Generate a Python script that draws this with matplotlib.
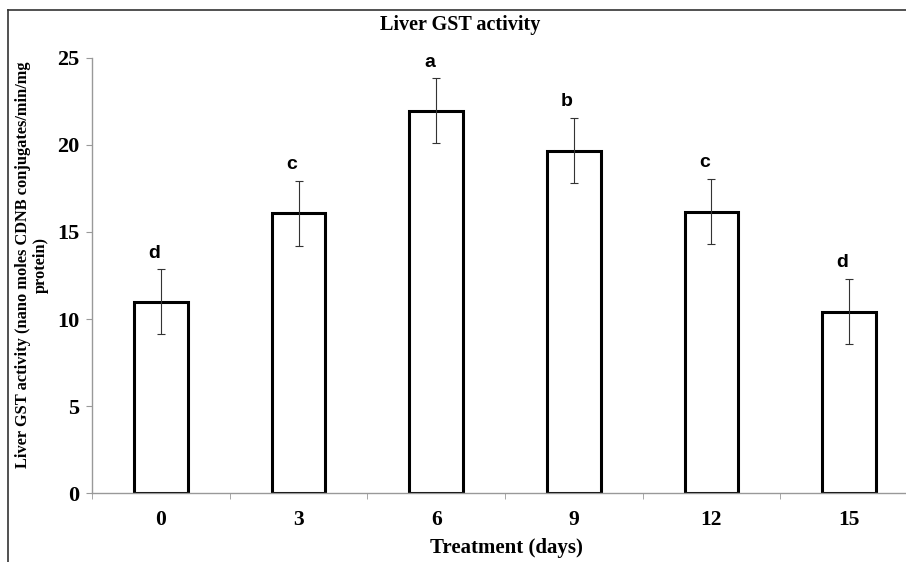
import matplotlib
matplotlib.use("Agg")
import matplotlib.pyplot as plt
from matplotlib.lines import Line2D
import numpy as np

categories = ["0", "3", "6", "9", "12", "15"]
means = [11.0, 16.07, 21.95, 19.67, 16.17, 10.42]
errors = [1.85, 1.87, 1.86, 1.87, 1.85, 1.86]
letters = ["d", "c", "a", "b", "c", "d"]
yticks = [0, 5, 10, 15, 20, 25]

W, H = 906, 562
fig = plt.figure(figsize=(W / 100, H / 100), dpi=100)
fig.patch.set_facecolor("white")

serif = ["Liberation Serif", "DejaVu Serif"]
sans = ["Liberation Sans", "DejaVu Sans"]

left_px, right_px = 92.2, 917.8
top_px, bot_px = 57.7, 493.3
ax = fig.add_axes([left_px / W, 1 - bot_px / H, (right_px - left_px) / W, (bot_px - top_px) / H])

x = np.arange(len(categories))
ax.bar(x, means, width=0.39, color="white", edgecolor="black", linewidth=2.2, zorder=2)
ax.errorbar(x, means, yerr=errors, fmt="none", ecolor="#333333", elinewidth=0.8,
            capsize=3, capthick=0.8, zorder=3)
for xi, m, e, lab in zip(x, means, errors, letters):
    ax.text(xi - 0.05, m + e + 0.45, lab, ha="center", va="bottom",
            fontsize=14, fontweight="bold", family=sans)

ax.set_xlim(-0.5, len(categories) - 0.5)
ax.set_ylim(0, 25)
ax.set_yticks(yticks)
ax.set_yticklabels([str(t) for t in yticks], fontsize=16, fontweight="bold", family=serif)
ax.set_xticks(x)
ax.set_xticklabels(categories, fontsize=15.5, fontweight="bold", family=serif)
ax.set_xticks(np.arange(len(categories) + 1) - 0.5, minor=True)
ax.tick_params(axis="x", which="major", length=0, pad=12)
ax.tick_params(axis="x", which="minor", length=4.3, color="#999999", direction="out")
ax.tick_params(axis="y", which="major", length=4.3, color="#999999", direction="out", pad=5)

for s in ["top", "right"]:
    ax.spines[s].set_visible(False)
for s in ["left", "bottom"]:
    ax.spines[s].set_color("#999999")
    ax.spines[s].set_linewidth(1.0)

fig.text(460 / W, 1 - 25 / H, "Liver GST activity", ha="center", va="center",
         fontsize=14.5, fontweight="bold", family=serif)
fig.text(506 / W, 1 - 548 / H, "Treatment (days)", ha="center", va="center",
         fontsize=15, fontweight="bold", family=serif)
fig.text(32 / W, 1 - 265 / H,
         "Liver GST activity (nano moles CDNB conjugates/min/mg\nprotein)",
         ha="center", va="center", rotation=90, multialignment="center",
         fontsize=11.8, fontweight="bold", family=serif, linespacing=1.15)

# outer frame (cropped on right and bottom)
fy = 1 - 10 / H
fx = 8.3 / W
fig.add_artist(Line2D([fx, fx], [0, fy], transform=fig.transFigure, color="#333333", lw=1.2))
fig.add_artist(Line2D([fx, 1], [fy, fy], transform=fig.transFigure, color="#333333", lw=1.2))

fig.savefig("out.png", dpi=100, facecolor="white")
